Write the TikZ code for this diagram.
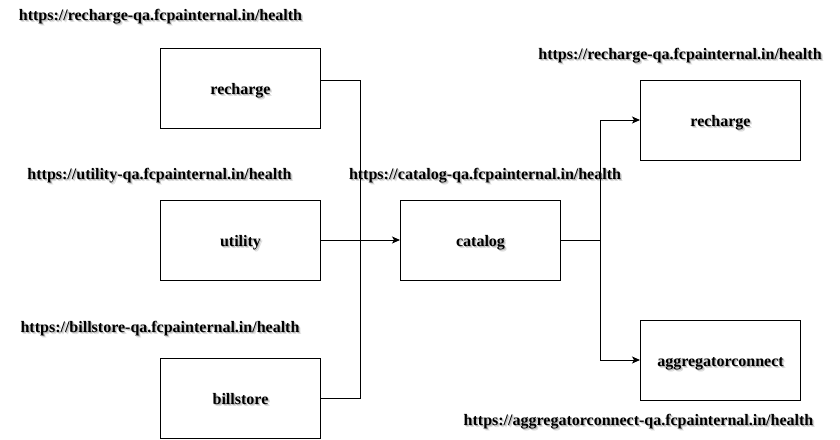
\documentclass[tikz,border=0pt]{standalone}
\usepackage{fontspec}
\setmainfont{Liberation Serif}
\usetikzlibrary{arrows.meta}
\newcommand{\shtext}[1]{\rlap{\hspace*{2pt}\raisebox{-2pt}{\textcolor{black!14}{#1}}}\rlap{\hspace*{1pt}\raisebox{-1pt}{\textcolor{black!28}{#1}}}#1}
\begin{document}
\begin{tikzpicture}[x=1pt,y=-1pt,
  svc/.style={draw=black,line width=1pt,minimum width=160pt,minimum height=80pt,inner sep=0pt,text height=12pt,text depth=0pt,font=\fontsize{16}{19}\selectfont\bfseries},
  url/.style={inner sep=0pt,text height=11pt,text depth=3.5pt,font=\fontsize{16}{19}\selectfont\bfseries},
  conn/.style={line width=1pt},
  arr/.style={line width=1pt,-{Stealth[length=8pt,width=7pt,inset=2pt]}}]
\useasboundingbox (0,0) rectangle (840,439);
% boxes
\node[svc] (rl) at (240.5,88) {\shtext{recharge}};
\node[svc] (ut) at (240.5,240) {\shtext{utility}};
\node[svc] (bs) at (240.5,398) {\shtext{billstore}};
\node[svc] (cat) at (480.5,240) {\shtext{catalog}};
\node[svc] (rr) at (720.5,120) {\shtext{recharge}};
\node[svc] (ag) at (720.5,360) {\shtext{aggregatorconnect}};
% urls
\node[url] (u1) at (160.5,17) {\shtext{https://recharge-qa.fcpainternal.in/health}};
\node[url] (u2) at (680,56) {\shtext{https://recharge-qa.fcpainternal.in/health}};
\node[url] (u3) at (159.5,176) {\shtext{https://utility-qa.fcpainternal.in/health}};
\node[url] (u4) at (485,176) {\shtext{https://catalog-qa.fcpainternal.in/health}};
\node[url] (u5) at (160,329) {\shtext{https://billstore-qa.fcpainternal.in/health}};
\node[url] (u6) at (638.5,422) {\shtext{https://aggregatorconnect-qa.fcpainternal.in/health}};
% junctions
\coordinate (jl) at (360.5,240);
\coordinate (jr) at (600.5,240);
% connectors
\draw[conn] ([yshift=8pt]rl.east) -| (jl);
\draw[conn] (bs.east) -| (jl);
\draw[arr] (ut.east) -- (cat.west);
\draw[conn] (cat.east) -- (jr);
\draw[arr] (jr) |- (rr.west);
\draw[arr] (jr) |- (ag.west);
\end{tikzpicture}
\end{document}
